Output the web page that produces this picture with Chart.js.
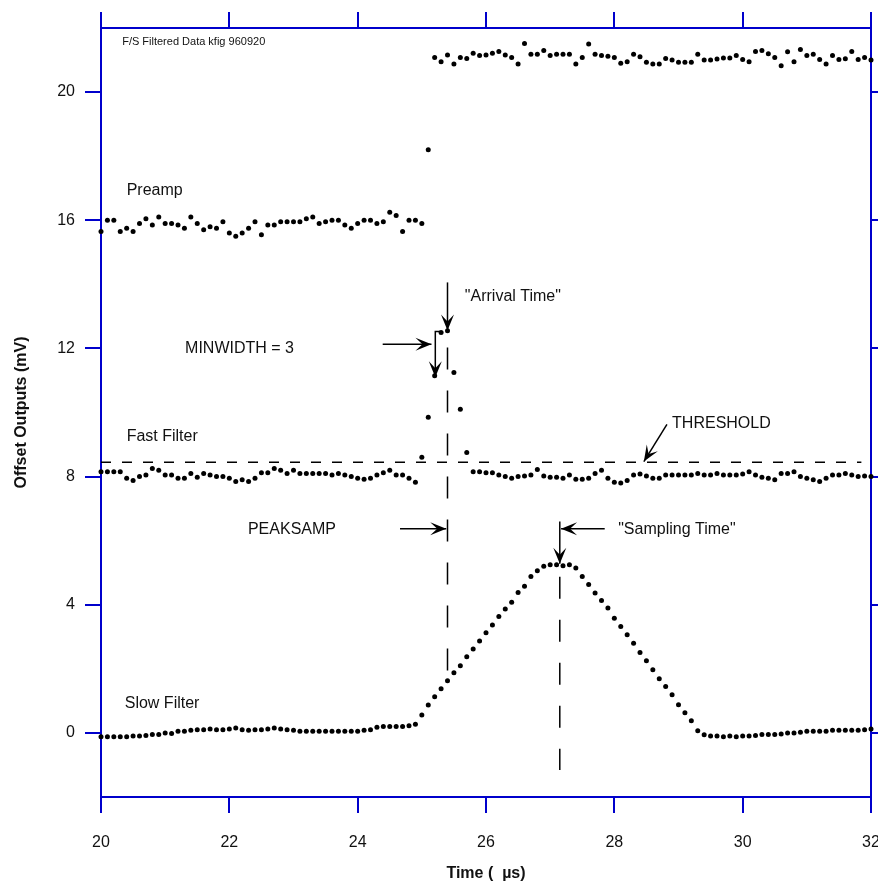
<!DOCTYPE html>
<html>
<head>
<meta charset="utf-8">
<script src="https://cdn.jsdelivr.net/npm/chart.js@4.4.1/dist/chart.umd.min.js"></script>
<style>
  html, body { margin: 0; padding: 0; background: #fff; }
  #wrap { width: 878px; height: 890px; }
</style>
</head>
<body>
<div id="wrap"><canvas id="myChart" width="878" height="890"></canvas></div>
<script>
// sample clock of the filtered data (us)
const tStart = 20
const tStep = 0.1

// Preamp output, 20.0 .. 32.0 us
const preamp = [
  15.65, 16.0, 16.0, 15.65, 15.75, 15.65, 15.9, 16.05, 15.85, 16.1,
  15.9, 15.9, 15.85, 15.75, 16.1, 15.9, 15.7, 15.8, 15.75, 15.95,
  15.6, 15.5, 15.6, 15.75, 15.95, 15.55, 15.85, 15.85, 15.95, 15.95,
  15.95, 15.95, 16.05, 16.1, 15.9, 15.95, 16.0, 16.0, 15.85, 15.75,
  15.9, 16.0, 16.0, 15.9, 15.95, 16.25, 16.15, 15.65, 16.0, 16.0,
  15.9,
  18.2,
  21.08, 20.95, 21.16, 20.88, 21.08, 21.05, 21.21, 21.14, 21.16, 21.21,
  21.27, 21.16, 21.08, 20.88, 21.52, 21.18, 21.18, 21.3, 21.14, 21.18,
  21.18, 21.18, 20.88, 21.08, 21.5, 21.18, 21.14, 21.12, 21.08, 20.9,
  20.95, 21.18, 21.1, 20.93, 20.88, 20.88, 21.05, 21.0, 20.93, 20.93,
  20.93, 21.18, 21.0, 21.0, 21.03, 21.06, 21.06, 21.14, 21.02, 20.95,
  21.27, 21.3, 21.2, 21.08, 20.82, 21.26, 20.95, 21.33, 21.14, 21.18,
  21.02, 20.88, 21.14, 21.02, 21.04, 21.27, 21.02, 21.08, 21.0
]

// Fast filter output
const fastFilter = [
  8.15, 8.15, 8.15, 8.15, 7.95, 7.88, 8.0, 8.05, 8.25, 8.2,
  8.05, 8.05, 7.95, 7.95, 8.1, 7.98, 8.1, 8.05, 8.0, 8.0,
  7.95, 7.85, 7.9, 7.85, 7.95, 8.12, 8.12, 8.25, 8.2, 8.1,
  8.2, 8.1, 8.1, 8.1, 8.1, 8.1, 8.05, 8.1, 8.05, 8.0,
  7.95, 7.92, 7.95, 8.05, 8.12, 8.2, 8.05, 8.05, 7.95, 7.82,
  8.6, 9.85, 11.15, 12.5, 12.55, 11.25, 10.1, 8.75,
  8.15, 8.15, 8.12, 8.12, 8.05, 8.0, 7.95, 8.0, 8.02, 8.05,
  8.22, 8.02, 7.98, 7.98, 7.95, 8.05, 7.92, 7.92, 7.95, 8.1,
  8.2, 7.95, 7.82, 7.8, 7.88, 8.05, 8.08, 8.02, 7.95, 7.95,
  8.05, 8.05, 8.05, 8.05, 8.05, 8.1, 8.05, 8.05, 8.1, 8.05,
  8.05, 8.05, 8.08, 8.15, 8.05, 7.98, 7.95, 7.9, 8.1, 8.1,
  8.15, 8.0, 7.95, 7.9, 7.85, 7.95, 8.05, 8.05, 8.1, 8.05,
  8.0, 8.02, 8.0
]

// Slow filter output
const slowFilter = [
  -0.12, -0.12, -0.12, -0.12, -0.12, -0.1, -0.1, -0.08, -0.05, -0.05,
  0.0, -0.02, 0.05, 0.05, 0.08, 0.1, 0.1, 0.12, 0.1, 0.1,
  0.12, 0.15, 0.1, 0.08, 0.1, 0.1, 0.12, 0.15, 0.12, 0.1,
  0.08, 0.05, 0.05, 0.05, 0.05, 0.05, 0.05, 0.05, 0.05, 0.05,
  0.05, 0.08, 0.1, 0.18, 0.2, 0.2, 0.2, 0.2, 0.22,
  0.27, 0.56, 0.87, 1.13, 1.38, 1.63, 1.88, 2.1, 2.38, 2.62,
  2.87, 3.13, 3.37, 3.63, 3.87, 4.08, 4.38, 4.58, 4.88, 5.06,
  5.2, 5.25, 5.25, 5.22, 5.25, 5.15, 4.88, 4.63, 4.37, 4.13,
  3.9, 3.58, 3.32, 3.06, 2.8, 2.51, 2.25, 1.97, 1.69, 1.45,
  1.19, 0.88, 0.63, 0.38, 0.07,
  -0.06, -0.1, -0.1, -0.12, -0.1, -0.12, -0.1, -0.1, -0.08, -0.05,
  -0.05, -0.05, -0.03, 0.0, 0.0, 0.02, 0.05, 0.05, 0.05, 0.05,
  0.08, 0.08, 0.08, 0.08, 0.08, 0.1, 0.12
]

const threshold = 8.45
const thresholdEnd = 31.85
const arrivalTime = 25.4
const samplingTime = 27.15

const xTicks = [20, 22, 24, 26, 28, 30, 32]
const yTicks = [0, 4, 8, 12, 16, 20]

const BLUE = '#0000cc'
const FONT = "'Liberation Sans', Arial, Helvetica, sans-serif"

const toPoints = arr => arr.map((v, i) => ({x: +(tStart + i * tStep).toFixed(2), y: v}))

// text labels in data units
const notes = [
  {text: 'F/S Filtered Data kfig 960920', x: 20.33, y: 21.56, size: 11},
  {text: 'Preamp', x: 20.4, y: 16.94},
  {text: 'Fast Filter', x: 20.4, y: 9.25},
  {text: 'Slow Filter', x: 20.37, y: 0.9},
  {text: '"Arrival Time"', x: 25.67, y: 13.63},
  {text: 'MINWIDTH = 3', x: 21.31, y: 12.0},
  {text: 'THRESHOLD', x: 28.9, y: 9.66},
  {text: 'PEAKSAMP', x: 22.29, y: 6.34},
  {text: '"Sampling Time"', x: 28.06, y: 6.34},
]

// arrows: polyline in data units, head at the last point
const arrows = [
  [[24.39, 12.13], [25.15, 12.13]],
  [[25.28, 12.53], [25.21, 12.53], [25.21, 11.1]],
  [[arrivalTime, 14.06], [arrivalTime, 12.56]],
  [[24.66, 6.375], [25.38, 6.375]],
  [[27.85, 6.375], [27.17, 6.375]],
  [[samplingTime, 6.6], [samplingTime, 5.28]],
  [[28.82, 9.63], [28.46, 8.47]],
]

const drawHead = (ctx, x1, y1, x2, y2) => {
  const a = Math.atan2(y2 - y1, x2 - x1)
  const len = 16, half = 6.5, notch = 9
  ctx.save()
  ctx.translate(x2, y2)
  ctx.rotate(a)
  ctx.beginPath()
  ctx.moveTo(0, 0)
  ctx.lineTo(-len, -half)
  ctx.lineTo(-notch, 0)
  ctx.lineTo(-len, half)
  ctx.closePath()
  ctx.fill()
  ctx.restore()
}

const annotate = {
  id: 'annotate',
  afterDraw(chart) {
    const {ctx, scales: {x, y}} = chart
    ctx.save()
    ctx.fillStyle = '#111'
    ctx.textBaseline = 'middle'
    ctx.textAlign = 'left'
    notes.forEach(n => {
      ctx.font = `${n.size || 16}px ${FONT}`
      ctx.fillText(n.text, x.getPixelForValue(n.x), y.getPixelForValue(n.y))
    })
    ctx.strokeStyle = '#000'
    ctx.fillStyle = '#000'
    ctx.lineWidth = 1.5
    arrows.forEach(pts => {
      const p = pts.map(([a, b]) => [x.getPixelForValue(a), y.getPixelForValue(b)])
      ctx.beginPath()
      ctx.moveTo(p[0][0], p[0][1])
      for (let i = 1; i < p.length; i++) ctx.lineTo(p[i][0], p[i][1])
      ctx.stroke()
      const [a, b] = [p[p.length - 2], p[p.length - 1]]
      drawHead(ctx, a[0], a[1], b[0], b[1])
    })
    ctx.restore()
  }
}

const dots = (data) => ({
  type: 'scatter',
  data: toPoints(data),
  pointRadius: 2.5,
  pointBackgroundColor: '#000',
  pointBorderWidth: 0,
  showLine: false,
  clip: false,
})

const dashed = (data, dash) => ({
  type: 'line',
  data: data,
  borderColor: '#000',
  borderWidth: 1.5,
  borderDash: dash,
  pointRadius: 0,
  fill: false,
})

const gridOpts = {drawOnChartArea: false, color: BLUE, lineWidth: 2, tickLength: 16}
const borderOpts = {color: BLUE, width: 2}
const setTicks = vals => scale => { scale.ticks = vals.map(v => ({value: v})) }
// fixed box sizes, no extra label padding
const fixSize = (prop, size) => s => {
  s[prop] = size
  s.paddingLeft = s.paddingRight = s.paddingTop = s.paddingBottom = 0
}

const ctx = document.getElementById('myChart').getContext('2d')
const chart = new Chart(ctx, {
  data: {
    datasets: [
      dashed([{x: tStart, y: threshold}, {x: thresholdEnd, y: threshold}], [10, 11]),
      dashed([{x: arrivalTime, y: 12.03}, {x: arrivalTime, y: 1.66}], [22, 21]),
      dashed([{x: samplingTime, y: 4.87}, {x: samplingTime, y: -1.16}], [22, 21]),
      dots(preamp),
      dots(fastFilter),
      dots(slowFilter),
    ]
  },
  options: {
    responsive: false,
    animation: false,
    devicePixelRatio: 1,
    layout: {padding: 0},
    plugins: {legend: {display: false}, tooltip: {enabled: false}},
    scales: {
      x: {
        type: 'linear', position: 'bottom', min: 20, max: 32,
        afterBuildTicks: setTicks(xTicks),
        afterFit: fixSize('height', 93),
        grid: gridOpts, border: borderOpts,
        ticks: {color: '#111', font: {family: FONT, size: 16}, padding: 20, maxRotation: 0},
        title: {display: true, text: 'Time (  µs)', color: '#111',
          font: {family: FONT, size: 16, weight: 'bold'}, padding: {top: 0, bottom: 7}}
      },
      x2: {
        type: 'linear', position: 'top', min: 20, max: 32,
        afterBuildTicks: setTicks(xTicks),
        afterFit: fixSize('height', 28),
        grid: gridOpts, border: borderOpts,
        ticks: {display: false}
      },
      y: {
        type: 'linear', position: 'left', min: -2, max: 22,
        afterBuildTicks: setTicks(yTicks),
        afterFit: fixSize('width', 101),
        grid: gridOpts, border: borderOpts,
        ticks: {color: '#111', font: {family: FONT, size: 16}, padding: 10},
        title: {display: true, text: 'Offset Outputs (mV)', color: '#111',
          font: {family: FONT, size: 16, weight: 'bold'}, padding: {top: 12, bottom: 0}}
      },
      y2: {
        type: 'linear', position: 'right', min: -2, max: 22,
        afterBuildTicks: setTicks(yTicks),
        afterFit: fixSize('width', 7),
        grid: gridOpts, border: borderOpts,
        ticks: {display: false}
      }
    }
  },
  plugins: [annotate]
})
</script>
</body>
</html>
